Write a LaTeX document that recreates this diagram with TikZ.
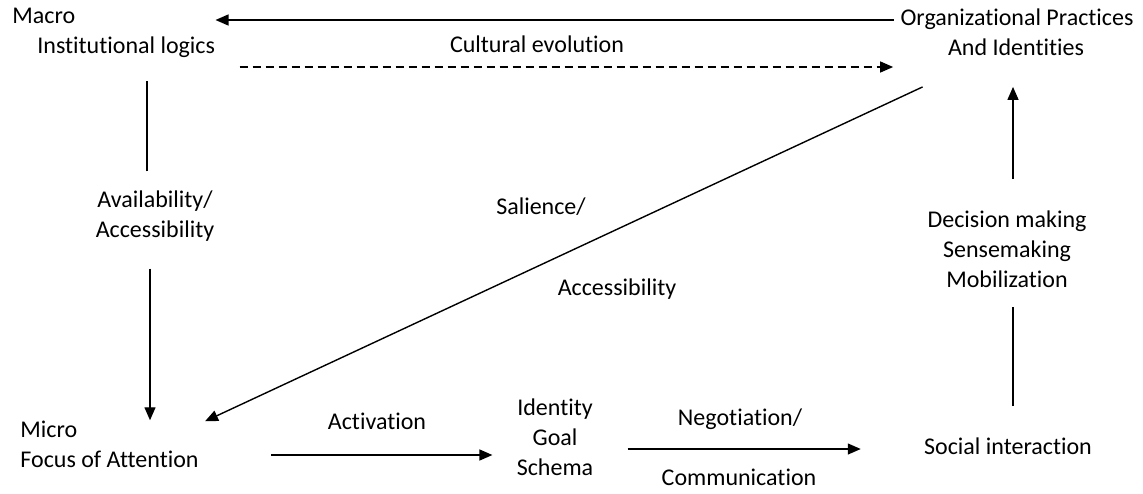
\documentclass[tikz,border=0pt]{standalone}
\usepackage{fontspec}
\setmainfont[Ligatures=NoCommon]{Carlito}
\usepackage{tikz}
\usetikzlibrary{arrows.meta}

\begin{document}
\begin{tikzpicture}[x=0.5pt,y=-0.5pt,
        every node/.style={inner sep=0pt, font=\fontsize{12}{15}\selectfont},
        one/.style={text height=8pt, text depth=2.5pt},
        arr/.style={-{Triangle[length=6.5pt,width=5.5pt]}, line width=0.7pt},
        ln/.style={line width=0.7pt}]
        \useasboundingbox (0,0) rectangle (1143,493);
        \node[one, anchor=west] (macro) at (12,18) {Macro};
        \node[one, anchor=west] (inst) at (37,48) {Institutional logics};
        \node[one] (org) at (1017,20) {Organizational Practices};
        \node[one] (orgb) at (1016,50) {And Identities};
        \node[one] (cult) at (537,47) {Cultural evolution};
        \node[align=center] (avail) at (155,216) {Availability/\\Accessibility};
        \node[one] (sal) at (541,209) {Salience/};
        \node[one] (acc) at (617,290) {Accessibility};
        \node[align=left, anchor=west] (micro) at (20,444) {Micro\\Focus of Attention};
        \node[one] (act) at (377,424) {Activation};
        \node[align=center] (igs) at (555,437) {Identity\\Goal\\Schema};
        \node[one] (nego) at (740,420) {Negotiation/};
        \node[one] (comm) at (739,480) {Communication};
        \node[one] (social) at (1008,449) {Social interaction};
        \node[align=center] (dec) at (1007,249) {Decision making\\Sensemaking\\Mobilization};
        \coordinate (dstart) at ([shift={(24,19)}]inst.east);
        \coordinate (astart) at ([shift={(72,11)}]micro.east);
        % macro side
        \draw[arr, shorten <=3pt] (org.west) -- (org.west -| inst.east);
        \draw[arr, dashed, dash pattern=on 4pt off 2.5pt, shorten >=3.5pt] (dstart) -- (dstart -| org.west);
        \draw[ln, shorten <=9.5pt, shorten >=11pt] ([xshift=-4pt]avail.north) -- ([xshift=-4pt]avail.north |- inst.south);
        \draw[arr, shorten <=13.5pt] ([xshift=-2.5pt]avail.south) -- ([xshift=-2.5pt]avail.south |- micro.north);
        \draw[arr] ([shift={(-25,26)}]orgb.south west) -- ([shift={(6,1)}]micro.north east);
        % micro side
        \draw[arr, shorten >=12pt] (astart) -- (astart -| igs.west);
        \draw[arr, shorten >=31.5pt] ([xshift=17pt]igs.east |- social.west) -- (social.west);
        \draw[ln, shorten <=16pt, shorten >=9.5pt] ([xshift=2.5pt]social.north) -- ([xshift=2.5pt]social.north |- dec.south);
        \draw[arr, shorten <=15.5pt, shorten >=13pt] ([xshift=3pt]dec.north) -- ([xshift=3pt]dec.north |- orgb.south);
\end{tikzpicture}
\end{document}
